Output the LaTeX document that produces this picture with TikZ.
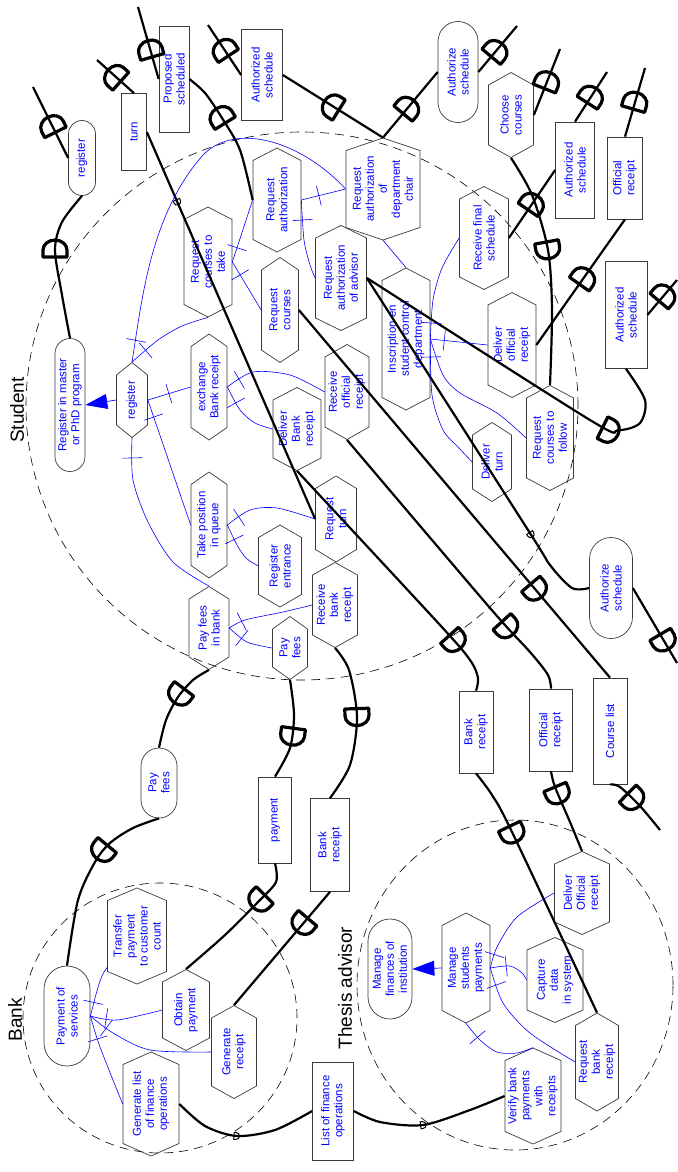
\documentclass[tikz,border=0pt]{standalone}
\usepackage{fontspec}
\setmainfont{Liberation Sans}
\usetikzlibrary{arrows.meta,shapes.misc,shapes.symbols,shapes.geometric,decorations.markings}
\definecolor{ink}{HTML}{0000FF}
\definecolor{rim}{HTML}{3A3A3A}
\newcommand\dshape{\draw[line width=3.2pt,line join=round] (-7pt,-12pt) -- (-7pt,12pt) -- (0pt,12pt) arc[start angle=90,end angle=-90,x radius=10pt,y radius=12pt] -- cycle;}
\newcommand\dsmallshape{\draw[line width=1pt] (-2pt,-3.5pt) -- (-2pt,3.5pt) -- (0pt,3.5pt) arc[start angle=90,end angle=-90,radius=3.5pt] -- cycle;}
\tikzset{
  elem/.style={draw=rim,line width=0.7pt,text=ink,rotate=90,align=center,inner sep=1pt,
    font=\fontsize{11.5}{13}\selectfont},
  goalb/.style={elem,rounded rectangle},
  taskb/.style={elem,signal,signal to=east and west},
  resb/.style={elem,rectangle},
  sz/.style 2 args={minimum height=#1pt,minimum width=#2pt,signal pointer angle={2*atan(#1/25)}},
  bound/.style={ellipse,draw,dash pattern=on 9pt off 6pt,line width=0.6pt},
  actlabel/.style={rotate=90,font=\fontsize{19}{22}\selectfont},
  dep/.style={line width=2.2pt},
  dsym/.style={postaction={decorate,decoration={markings,mark=at position #1 with {\dshape}}}},
  dopen/.style={postaction={decorate,decoration={markings,mark=at position #1 with {\dsmallshape}}}},
  decomp/.style={draw=ink,line width=0.6pt},
  dectick/.style={postaction={decorate,decoration={markings,mark=at position #1 with
    {\draw[ink,line width=0.6pt] (0pt,-10pt) -- (0pt,10pt);}}}},
  meansend/.style={draw=ink,line width=0.7pt,-{Triangle[length=22pt,width=15pt]}}
}
% rotate=90: anchor north = left side, south = right side, east = top, west = bottom

\begin{document}
\begin{tikzpicture}[x=1pt,y=-1pt]
  \useasboundingbox (0,0) rectangle (677,1172);
  % actors
  \node[bound,minimum width=552pt,minimum height=548pt] (student) at (302,406) {};
  \node[bound,minimum width=274pt,minimum height=270pt] (bank) at (160,1018) {};
  \node[bound,minimum width=316pt,minimum height=330pt] (advisor) at (515,985) {};
  \node[actlabel] (studentlbl) at (17,410) {Student};
  \node[actlabel] (banklbl) at (15,1020) {Bank};
  \node[actlabel] (advisorlbl) at (345,988) {Thesis advisor};

  % dependums and outside elements
  \node[goalb,sz={27}{77}] (gReg) at (82,158) {register};
  \node[resb,sz={25}{77}] (rTurn) at (134,132) {turn};
  \node[resb,sz={30}{106}] (rProp) at (174,79) {Proposed\\scheduled};
  \node[resb,sz={41}{91}] (rAuthA) at (262,75) {Authorized\\schedule};
  \node[goalb,sz={40}{103}] (gAuthA) at (458,72) {Authorize\\schedule};
  \node[taskb,sz={45}{85}] (tChoose) at (511,115) {Choose\\courses};
  \node[resb,sz={39}{96}] (rAuthB) at (575,170) {Authorized\\schedule};
  \node[resb,sz={35}{82}] (rOffA) at (625,178) {Official\\receipt};
  \node[resb,sz={42}{107}] (rAuthC) at (626,315) {Authorized\\schedule};
  \node[goalb,sz={43}{103}] (gAuthB) at (611,588) {Authorize\\schedule};
  \node[goalb,sz={36}{72}] (gPayFees) at (159,783) {Pay\\fees};
  \node[resb,sz={33}{86}] (rPayment) at (275,820) {payment};
  \node[resb,sz={39}{93}] (rBankA) at (330,845) {Bank\\receipt};
  \node[resb,sz={34}{82}] (rBankB) at (476,732) {Bank\\receipt};
  \node[resb,sz={43}{82}] (rOffB) at (551,730) {Official\\receipt};
  \node[resb,sz={34}{106}] (rCourse) at (610,731) {Course list};
  \node[resb,sz={41}{98}] (rList) at (333,1111) {List of finance\\operations};

  % student
  \node[taskb,sz={48}{104}] (tReqAuth) at (277,200) {Request\\authorization};
  \node[taskb,sz={48}{110}] (tReqTake) at (208,262) {Request\\courses to\\take};
  \node[taskb,sz={37}{105}] (tReqCour) at (280,310) {Request\\courses};
  \node[taskb,sz={74}{102}] (tReqDept) at (383,189) {Request\\authorization\\of\\department\\chair};
  \node[taskb,sz={49}{103}] (tRecFinal) at (484,238) {Receive final\\schedule};
  \node[taskb,sz={51}{105}] (tReqAdv) at (341,278) {Request\\authorization\\of advisor};
  \node[taskb,sz={48}{142}] (tInscr) at (406,339) {Inscription en\\student control\\department};
  \node[taskb,sz={48}{105}] (tDelOff) at (512,345) {Deliver\\official\\receipt};
  \node[taskb,sz={47}{105}] (tReqFollow) at (550,438) {Request\\courses to\\follow};
  \node[taskb,sz={39}{79}] (tDelTurn) at (492,462) {Deliver\\turn};
  \node[taskb,sz={44}{95}] (tRecOff) at (347,392) {Receive\\official\\receipt};
  \node[taskb,sz={41}{86}] (tReqTurn) at (336,519) {Request\\turn};
  \node[goalb,sz={30}{135}] (gMaster) at (70,405) {Register in master\\or PhD program};
  \node[taskb,sz={31}{75}] (tRegister) at (132,400) {register};
  \node[taskb,sz={36}{106}] (tExch) at (209,387) {exchange\\Bank receipt};
  \node[taskb,sz={48}{83}] (tDelBank) at (297,429) {Deliver\\Bank\\receipt};
  \node[taskb,sz={36}{106}] (tQueue) at (209,525) {Take position\\in queue};
  \node[taskb,sz={43}{82}] (tRegEnt) at (280,566) {Register\\entrance};
  \node[taskb,sz={45}{85}] (tRecBank) at (335,605) {Receive\\bank\\receipt};
  \node[taskb,sz={40}{83}] (tPayBank) at (209,628) {Pay fees\\in bank};
  \node[taskb,sz={35}{63}] (tPayFees) at (290,648) {Pay\\fees};

  % bank
  \node[goalb,sz={46}{102}] (gPaySrv) at (67,1016) {Payment of\\services};
  \node[taskb,sz={59}{96}] (tTransfer) at (137,936) {Transfer\\payment\\to customer\\count};
  \node[taskb,sz={47}{81}] (tObtain) at (186,1010) {Obtain\\payment};
  \node[taskb,sz={45}{93}] (tGenRec) at (234,1052) {Generate\\receipt};
  \node[taskb,sz={56}{104}] (tGenList) at (151,1104) {Generate list\\of finance\\operations};

  % thesis advisor
  \node[goalb,sz={44}{102}] (gFin) at (390,969) {Manage\\finances of\\institution};
  \node[taskb,sz={48}{110}] (tManage) at (466,968) {Manage\\students\\payments};
  \node[taskb,sz={55}{83}] (tDelOffB) at (582,893) {Deliver\\Official\\receipt};
  \node[taskb,sz={56}{85}] (tCapture) at (555,980) {Capture\\data\\in system};
  \node[taskb,sz={43}{98}] (tReqBank) at (597,1062) {Request\\bank\\receipt};
  \node[taskb,sz={56}{96}] (tVerify) at (533,1096) {Verify bank\\payments\\with\\receipts};

  % free ends
  \coordinate (e1) at (33,87);
  \coordinate (e3) at (97,60);
  \coordinate (e5) at (138,7);
  \coordinate (e7) at (208,25);
  \coordinate (e10) at (517,26);
  \coordinate (e11) at (560,49);
  \coordinate (e14) at (607,72);
  \coordinate (e15) at (645,68);
  \coordinate (e17) at (677,280);
  \coordinate (e20) at (677,663);
  \coordinate (e22) at (660,830);

  % dependencies
  \draw[dep,dsym=0.45] (gReg.north) -- (e1);
  \draw[dep,dsym=0.59] plot[smooth] coordinates {(gMaster.east) (62,295) (55,250) (62,222) (gReg.west)};
  \draw[dep,dsym=0.5] (rTurn.east) -- (e3);
  \draw[dep,dopen=0.18] (rTurn.south) -- (tReqTurn.north);
  \draw[dep,dsym=0.4] (rProp.north) -- (e5);
  \draw[dep,dsym=0.64] plot[smooth] coordinates {(tReqAuth.north) (240,150) (222,118) (205,93) (rProp.south)};
  \draw[dep,dsym=0.5] (rAuthA.north) -- (e7);
  \draw[dep,dsym=0.5] (tReqDept.east) -- (rAuthA.south);
  \draw[dep,dsym=0.45] (tReqDept.east) -- (gAuthA.north);
  \draw[dep,dsym=0.45] (gAuthA.south) -- (e10);
  \draw[dep,dsym=0.5] (tChoose.south) -- (e11);
  \draw[dep,dsym=0.42] plot[smooth] coordinates {(tChoose.west) (532,195) (548,250) (552,310) (tReqFollow.east)};
  \draw[dep,dsym=0.5] (tRecFinal.south) -- (rAuthB.north);
  \draw[dep,dsym=0.5] (rAuthB.east) -- (e14);
  \draw[dep,dsym=0.5] (rOffA.east) -- (e15);
  \draw[dep,dsym=0.53] (tDelOff.south) -- (rOffA.west);
  \draw[dep,dsym=0.55] (rAuthC.south) -- (e17);
  \draw[dep,dsym=0.75] plot[smooth] coordinates {(tReqAdv.south) (590,420) (618,430) (640,423) (645,400) (rAuthC.west)};
  \draw[dep,dopen=0.78] plot[smooth] coordinates {(tReqAdv.south) (528,530) (550,565) (572,588) (gAuthB.north)};
  \draw[dep,dsym=0.7] (gAuthB.south) -- (e20);
  \draw[dep,dsym=0.76] (tReqCour.south) -- (rCourse.east);
  \draw[dep,dsym=0.4] plot[smooth] coordinates {(rCourse.west) (620,787) (640,806) (e22)};
  \draw[dep,dsym=0.76] plot[smooth] coordinates {(tRecOff.west) (490,608) (530,652) (548,675) (rOffB.east)};
  \draw[dep,dsym=0.27] plot[smooth] coordinates {(rOffB.west) (555,787) (570,822) (tDelOffB.east)};
  \draw[dep,dsym=0.8] plot[smooth] coordinates {(tDelBank.west) (440,625) (470,660) (478,678) (rBankB.east)};
  \draw[dep,dsym=0.26] plot[smooth] coordinates {(rBankB.west) (492,795) (512,832) (tReqBank.east)};
  \draw[dep,dsym=0.45] plot[smooth] coordinates {(tRecBank.west) (349,670) (357,717) (350,765) (rBankA.east)};
  \draw[dep,dsym=0.28] (rBankA.west) -- (tGenRec.east);
  \draw[dep,dsym=0.55] plot[smooth] coordinates {(tPayFees.west) (294,715) (290,748) (rPayment.east)};
  \draw[dep,dsym=0.3] plot[smooth] coordinates {(rPayment.west) (276,882) (258,902) (225,935) (tObtain.east)};
  \draw[dep,dsym=0.4] plot[smooth] coordinates {(tPayBank.west) (193,680) (178,697) (166,720) (gPayFees.east)};
  \draw[dep,dsym=0.35] plot[smooth] coordinates {(gPayFees.west) (133,828) (110,843) (95,862) (78,900) (gPaySrv.east)};
  \draw[dep,dopen=0.45] plot[smooth] coordinates {(tGenList.south) (205,1126) (237,1136) (275,1130) (rList.north)};
  \draw[dep,dopen=0.45] plot[smooth] coordinates {(rList.south) (380,1122) (423,1125) (470,1110) (tVerify.north)};

  % means-end
  \draw[meansend] (tRegister.north) -- (gMaster.south);
  \draw[meansend] (tManage.north) -- (gFin.south);

  % decompositions, student
  \draw[decomp] (tRegister.east) .. controls (142,300) and (150,215) .. (203,155)
    .. controls (235,122) and (300,140) .. (tReqDept.north);
  \path[dectick=22pt] (tRegister.east) -- (140,320);
  \draw[decomp] plot[smooth] coordinates {(tRegister.east) (158,340) (182,326) (tReqTake.west)};
  \path[dectick=18pt] (tRegister.east) -- (158,340);
  \draw[decomp,dectick=22pt] (tRegister.south) -- (tExch.north);
  \draw[decomp,dectick=18pt] (tRegister.south) -- (tQueue.north);
  \draw[decomp] plot[smooth] coordinates {(tRegister.west) (133,480) (148,522) (173,562) (tPayBank.east)};
  \path[dectick=20pt] (tRegister.west) -- (133,480);
  \draw[decomp] plot[smooth] coordinates {(tExch.south) (253,372) (290,375) (tRecOff.north)};
  \path[dectick=14pt] (tExch.south) -- (253,372);
  \draw[decomp] plot[smooth] coordinates {(tExch.south) (240,410) (255,423) (tDelBank.north)};
  \path[dectick=18pt] (tExch.south) -- (240,410);
  \draw[decomp] plot[smooth] coordinates {(tQueue.south) (250,510) (277,508) (tReqTurn.north)};
  \path[dectick=14pt] (tQueue.south) -- (250,510);
  \draw[decomp] plot[smooth] coordinates {(tQueue.south) (237,545) (246,558) (tRegEnt.north)};
  \path[dectick=16pt] (tQueue.south) -- (237,545);
  \draw[decomp] plot[smooth] coordinates {(tPayBank.south) (245,620) (283,612) (tRecBank.north)};
  \path[dectick=14pt] (tPayBank.south) -- (245,620);
  \draw[decomp] plot[smooth] coordinates {(tPayBank.south) (247,642) (tPayFees.north)};
  \path[dectick=16pt] (tPayBank.south) -- (247,642);
  \draw[decomp,dectick=18pt] (tReqAuth.south) -- (tReqDept.north);
  \draw[decomp] plot[smooth] coordinates {(tReqAuth.south) (304,240) (310,265) (tReqAdv.north)};
  \path[dectick=20pt] (tReqAuth.south) -- (304,240);
  \draw[decomp,dectick=15pt] (tReqTake.south) -- (tReqAuth.north);
  \draw[decomp,dectick=15pt] (tReqTake.south) -- (tReqCour.north);
  \draw[decomp] (tInscr.east) -- (tReqDept.west);
  \draw[decomp,dectick=14pt] (tInscr.south) -- (tDelOff.north);
  \draw[decomp] plot[smooth] coordinates {(tInscr.south) (433,300) (442,268) (tRecFinal.north)};
  \path[dectick=16pt] (tInscr.south) -- (433,300);
  \draw[decomp] plot[smooth] coordinates {(tInscr.south) (432,395) (443,430) (458,447) (tDelTurn.north)};
  \path[dectick=18pt] (tInscr.south) -- (432,395);
  \draw[decomp] plot[smooth] coordinates {(tInscr.south) (443,375) (460,393) (497,413) (tReqFollow.north)};

  % decompositions, bank
  \draw[decomp] (gPaySrv.south) .. controls (96,995) and (100,975) .. (tTransfer);
  \path[dectick=14pt] (gPaySrv.south) -- (96,990);
  \draw[decomp] plot[smooth] coordinates {(gPaySrv.south) (117,1020) (tObtain.north)};
  \path[dectick=16pt] (gPaySrv.south) -- (117,1020);
  \draw[decomp] plot[smooth] coordinates {(gPaySrv.south) (113,1033) (150,1050) (tGenRec.north)};
  \path[dectick=20pt] (gPaySrv.south) -- (113,1033);
  \draw[decomp] plot[smooth] coordinates {(gPaySrv.south) (100,1047) (tGenList.north)};
  \path[dectick=24pt] (gPaySrv.south) -- (100,1047);

  % decompositions, thesis advisor
  \draw[decomp] plot[smooth] coordinates {(tManage.south) (497,947) (517,917) (tDelOffB.north)};
  \path[dectick=14pt] (tManage.south) -- (497,947);
  \draw[decomp] plot[smooth] coordinates {(tManage.south) (510,966) (522,973) (tCapture.north)};
  \path[dectick=16pt] (tManage.south) -- (510,966);
  \draw[decomp] plot[smooth] coordinates {(tManage.south) (503,1003) (530,1033) (tReqBank.north)};
  \path[dectick=18pt] (tManage.south) -- (503,1003);
  \draw[decomp] plot[smooth] coordinates {(tManage.west) (480,1040) (497,1052) (517,1053) (tVerify.east)};
  \path[dectick=18pt] (tManage.west) -- (480,1040);
\end{tikzpicture}
\end{document}
